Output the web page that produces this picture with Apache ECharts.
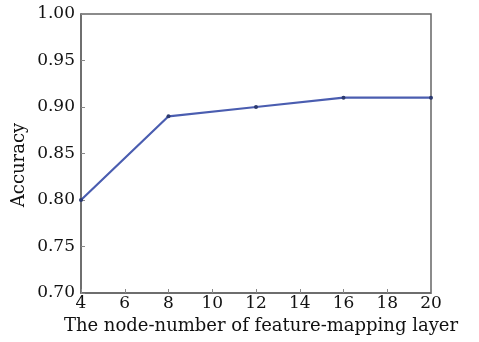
<!DOCTYPE html>
<html><head><meta charset="utf-8">
<script src="https://cdn.jsdelivr.net/npm/echarts@6/dist/echarts.min.js"></script>
<style>html,body{margin:0;padding:0;background:#fff}#c{width:479px;height:342px}</style>
</head><body><div id="c"></div>
<script>
const xValues = [4, 8, 12, 16, 20];
const accuracy = [0.80, 0.89, 0.90, 0.91, 0.91];
const xLabel = 'The node-number of feature-mapping layer';
const yLabel = 'Accuracy';

const chart = echarts.init(document.getElementById('c'));
const font = '"DejaVu Serif", "Liberation Serif", serif';
chart.setOption({
  animation: false,
  grid: {left: 81, right: 48, top: 14, bottom: 49, show: true, borderColor: '#666', borderWidth: 1.5},
  graphic: [{
    type: 'text', x: 19, y: 165, rotation: Math.PI / 2,
    style: {text: yLabel, font: '18px ' + font, fill: '#111', align: 'center', verticalAlign: 'middle'}
  }, {
    type: 'text', x: 261, y: 326,
    style: {text: xLabel, font: '18px ' + font, fill: '#111', align: 'center', verticalAlign: 'middle'}
  }],
  xAxis: {
    type: 'value', min: 4, max: 20, interval: 2,
    axisLine: {lineStyle: {color: '#666', width: 1.5}},
    axisTick: {inside: true, length: 4, lineStyle: {color: '#888'}},
    axisLabel: {fontFamily: font, fontSize: 17, color: '#111', margin: 2},
    splitLine: {show: false}
  },
  yAxis: {
    type: 'value', min: 0.70, max: 1.00, interval: 0.05,
    axisLine: {show: true, lineStyle: {color: '#666', width: 1.5}},
    axisTick: {show: true, inside: true, length: 4, lineStyle: {color: '#888'}},
    axisLabel: {fontFamily: font, fontSize: 17, color: '#111', margin: 6, formatter: v => v.toFixed(2)},
    splitLine: {show: false}
  },
  series: [{
    type: 'line',
    data: xValues.map((x, i) => [x, accuracy[i]]),
    lineStyle: {color: '#4a5db0', width: 2.2},
    itemStyle: {color: '#2c3a70'},
    symbol: 'circle', symbolSize: 4,
    showSymbol: true
  }]
});
</script></body></html>
